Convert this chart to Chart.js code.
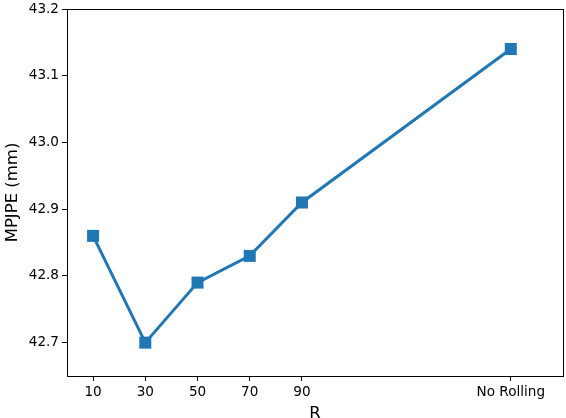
<!DOCTYPE html>
<html>
<head>
<meta charset="utf-8">
<script src="https://cdn.jsdelivr.net/npm/chart.js@4"></script>
<style>
  html, body { margin: 0; padding: 0; background: #fff; }
  #wrap { width: 566px; height: 418px; position: relative; }
</style>
</head>
<body>
<div id="wrap"><canvas id="chart"></canvas></div>
<script>
// data
const xPositions = [10, 30, 50, 70, 90, 170];
const xTickLabels = ['10', '30', '50', '70', '90', 'No Rolling'];
const mpjpe = [42.86, 42.70, 42.79, 42.83, 42.91, 43.14];
const yTicks = [42.7, 42.8, 42.9, 43.0, 43.1, 43.2];

const blue = '#1f77b4';
const font = 'DejaVu Sans';

// full box around the plot area, like matplotlib spines
const boxPlugin = {
  id: 'box',
  afterDraw(chart) {
    const a = chart.chartArea;
    const ctx = chart.ctx;
    ctx.save();
    ctx.strokeStyle = '#000';
    ctx.lineWidth = 1;
    ctx.strokeRect(Math.round(a.left) + 0.5, Math.round(a.top) + 0.5,
      Math.round(a.right - a.left), Math.round(a.bottom - a.top));
    ctx.restore();
  }
};

new Chart(document.getElementById('chart'), {
  type: 'scatter',
  data: {
    datasets: [{
      data: xPositions.map((x, i) => ({ x: x, y: mpjpe[i] })),
      showLine: true,
      borderColor: blue,
      backgroundColor: blue,
      borderWidth: 3,
      pointStyle: 'rect',
      pointRadius: 8.5,
      pointHoverRadius: 8.5,
      pointBorderWidth: 0
    }]
  },
  options: {
    responsive: true,
    maintainAspectRatio: false,
    animation: false,
    layout: { autoPadding: false, padding: { top: 9, right: 3, left: 0, bottom: 0 } },
    plugins: { legend: { display: false }, tooltip: { enabled: false } },
    scales: {
      x: {
        type: 'linear',
        min: 0,
        max: 190,
        afterBuildTicks(scale) { scale.ticks = xPositions.map(v => ({ value: v })); },
        afterFit(scale) { scale.height = 42; scale.paddingLeft = 0; scale.paddingRight = 0; },
        ticks: {
          color: '#000',
          font: { family: font, size: 13.6 },
          padding: 3,
          maxRotation: 0,
          autoSkip: false,
          callback(v) { const i = xPositions.indexOf(v); return i >= 0 ? xTickLabels[i] : ''; }
        },
        grid: { drawOnChartArea: false, drawTicks: true, tickLength: 5, color: '#000' },
        border: { display: true, color: '#000' },
        title: { display: true, text: 'R', color: '#000', font: { family: font, size: 16.5 }, padding: { top: 1, bottom: -5.5 } }
      },
      y: {
        min: 42.65,
        max: 43.2,
        afterBuildTicks(scale) { scale.ticks = yTicks.map(v => ({ value: v })); },
        afterFit(scale) { scale.width = 67; scale.paddingTop = 0; scale.paddingBottom = 0; },
        ticks: {
          color: '#000',
          font: { family: font, size: 13.6 },
          padding: 3,
          callback(v) { return v.toFixed(1); }
        },
        grid: { drawOnChartArea: false, drawTicks: true, tickLength: 5, color: '#000' },
        border: { display: true, color: '#000' },
        title: { display: true, text: 'MPJPE (mm)', color: '#000', font: { family: font, size: 16.5 }, padding: { top: 3, bottom: 0 } }
      }
    }
  },
  plugins: [boxPlugin]
});
</script>
</body>
</html>
